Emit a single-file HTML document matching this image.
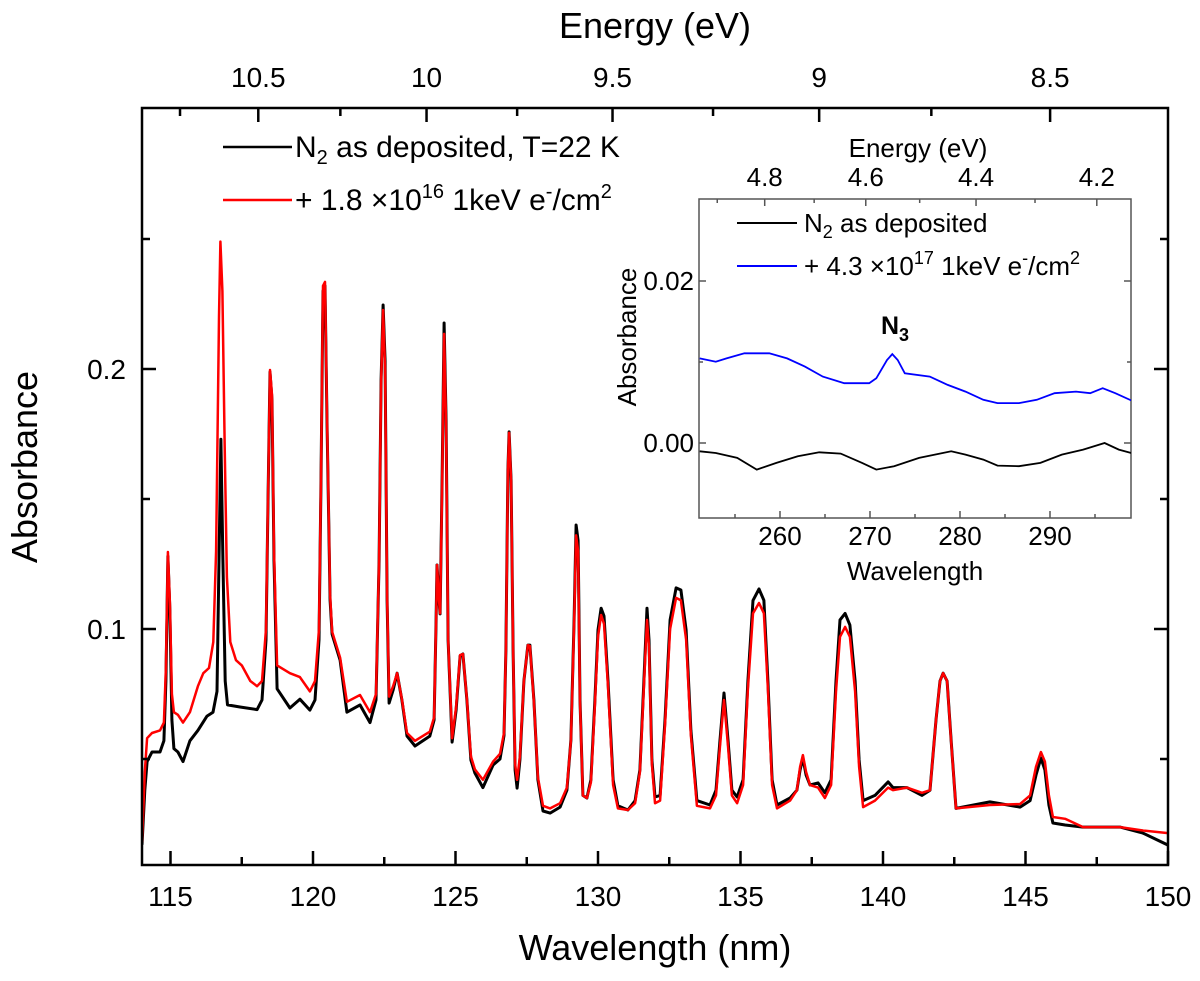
<!DOCTYPE html>
<html><head><meta charset="utf-8"><style>
html,body{margin:0;padding:0;background:#fff;}
svg{display:block;font-family:"Liberation Sans",Arial,sans-serif;}
</style></head><body>
<svg id="chart" width="1200" height="981" viewBox="0 0 1200 981" xmlns="http://www.w3.org/2000/svg">
<g id="main"></g>
<g id="inset"></g>
</svg>
<script>
// ---- main chart data ----
const xTicks = [115,120,125,130,135,140,145,150];
const xMinor = [117.5,122.5,127.5,132.5,137.5,142.5,147.5];
const yTicks = [0.1,0.2];
const yMinor = [0.05,0.15,0.25];
const eTicks = [10.5,10,9.5,9,8.5];
const eMinor = [10.75,10.25,9.75,9.25,8.75];
const blackSeries = [[114.0,0.017],[114.1,0.038],[114.18,0.049],[114.35,0.0527],[114.63,0.0527],[114.77,0.057],[114.84,0.080],[114.91,0.128],[114.98,0.107],[115.05,0.065],[115.12,0.054],[115.26,0.0527],[115.44,0.049],[115.68,0.057],[115.96,0.061],[116.28,0.0665],[116.49,0.068],[116.63,0.076],[116.7,0.1265],[116.77,0.173],[116.84,0.1265],[116.92,0.080],[117.0,0.0708],[117.44,0.070],[118.04,0.069],[118.21,0.0727],[118.35,0.0958],[118.42,0.149],[118.49,0.1988],[118.56,0.188],[118.63,0.1265],[118.74,0.077],[119.19,0.0696],[119.54,0.073],[119.89,0.0688],[120.07,0.0727],[120.21,0.0958],[120.28,0.157],[120.35,0.230],[120.42,0.232],[120.49,0.180],[120.6,0.111],[120.67,0.098],[120.95,0.088],[121.19,0.068],[121.65,0.0708],[122.0,0.064],[122.21,0.0727],[122.32,0.1265],[122.39,0.1958],[122.46,0.2246],[122.53,0.203],[122.6,0.111],[122.67,0.0715],[122.81,0.0765],[122.95,0.083],[123.12,0.0727],[123.3,0.0588],[123.58,0.055],[124.1,0.0588],[124.25,0.065],[124.32,0.1035],[124.35,0.1246],[124.42,0.111],[124.46,0.1058],[124.53,0.157],[124.6,0.2177],[124.67,0.180],[124.74,0.0958],[124.88,0.0565],[125.02,0.0688],[125.16,0.0896],[125.26,0.0904],[125.4,0.0727],[125.54,0.0496],[125.68,0.0446],[125.96,0.039],[126.32,0.0477],[126.56,0.050],[126.7,0.059],[126.77,0.092],[126.84,0.161],[126.88,0.1758],[126.95,0.157],[127.02,0.092],[127.09,0.0458],[127.16,0.0388],[127.26,0.0496],[127.4,0.080],[127.54,0.0938],[127.61,0.0938],[127.75,0.0727],[127.89,0.042],[128.07,0.030],[128.32,0.0292],[128.67,0.0315],[128.91,0.038],[129.05,0.0573],[129.16,0.1035],[129.23,0.140],[129.3,0.134],[129.37,0.0727],[129.47,0.036],[129.61,0.035],[129.75,0.042],[129.89,0.0727],[130.0,0.0996],[130.11,0.108],[130.21,0.105],[130.35,0.080],[130.53,0.042],[130.7,0.032],[131.05,0.0304],[131.3,0.034],[131.47,0.0458],[131.61,0.080],[131.72,0.108],[131.79,0.0958],[131.89,0.0496],[132.0,0.0354],[132.18,0.036],[132.35,0.065],[132.53,0.1035],[132.74,0.1158],[132.91,0.115],[133.09,0.0996],[133.26,0.061],[133.47,0.034],[133.93,0.0323],[134.14,0.038],[134.28,0.0573],[134.42,0.0754],[134.56,0.0573],[134.7,0.038],[134.88,0.0354],[135.09,0.042],[135.26,0.080],[135.44,0.111],[135.65,0.1154],[135.82,0.111],[135.96,0.080],[136.11,0.042],[136.28,0.0323],[136.74,0.035],[136.98,0.038],[137.09,0.0458],[137.19,0.0504],[137.3,0.0438],[137.44,0.040],[137.72,0.0408],[137.96,0.037],[138.18,0.042],[138.35,0.080],[138.49,0.1035],[138.67,0.106],[138.84,0.1015],[139.02,0.080],[139.16,0.0496],[139.3,0.034],[139.72,0.036],[140.18,0.0412],[140.35,0.039],[140.84,0.039],[141.37,0.036],[141.65,0.038],[141.86,0.065],[142.0,0.080],[142.11,0.083],[142.25,0.080],[142.39,0.0573],[142.56,0.031],[143.75,0.0335],[144.81,0.0315],[145.16,0.034],[145.37,0.0438],[145.54,0.0504],[145.68,0.0458],[145.82,0.0323],[145.96,0.0254],[146.39,0.0246],[147.02,0.0238],[148.32,0.0238],[149.12,0.0215],[150.0,0.0169]];
const redSeries = [[114.0,0.018],[114.1,0.045],[114.18,0.058],[114.35,0.060],[114.63,0.061],[114.77,0.064],[114.84,0.085],[114.91,0.1296],[114.98,0.110],[115.05,0.075],[115.12,0.068],[115.26,0.067],[115.44,0.064],[115.68,0.068],[115.96,0.078],[116.15,0.083],[116.35,0.085],[116.5,0.095],[116.6,0.130],[116.7,0.220],[116.75,0.249],[116.82,0.230],[116.9,0.170],[116.98,0.120],[117.1,0.095],[117.3,0.088],[117.5,0.086],[117.8,0.080],[118.04,0.078],[118.21,0.080],[118.35,0.100],[118.42,0.150],[118.49,0.1996],[118.56,0.190],[118.63,0.130],[118.74,0.086],[119.19,0.083],[119.54,0.0815],[119.89,0.076],[120.07,0.080],[120.21,0.100],[120.28,0.158],[120.35,0.232],[120.42,0.2335],[120.49,0.182],[120.6,0.113],[120.67,0.099],[120.95,0.089],[121.19,0.072],[121.65,0.0746],[122.0,0.068],[122.21,0.075],[122.32,0.127],[122.39,0.195],[122.46,0.2227],[122.53,0.200],[122.6,0.112],[122.67,0.074],[122.81,0.078],[122.95,0.083],[123.12,0.073],[123.3,0.060],[123.58,0.057],[124.1,0.0605],[124.25,0.066],[124.32,0.1035],[124.35,0.1246],[124.42,0.111],[124.46,0.106],[124.53,0.155],[124.6,0.2135],[124.67,0.178],[124.74,0.096],[124.88,0.058],[125.02,0.070],[125.16,0.090],[125.26,0.0904],[125.4,0.073],[125.54,0.051],[125.68,0.046],[125.96,0.042],[126.32,0.049],[126.56,0.052],[126.7,0.060],[126.77,0.092],[126.84,0.161],[126.88,0.1755],[126.95,0.157],[127.02,0.092],[127.09,0.048],[127.16,0.042],[127.26,0.051],[127.4,0.080],[127.54,0.0938],[127.61,0.0935],[127.75,0.072],[127.89,0.043],[128.07,0.032],[128.32,0.031],[128.67,0.033],[128.91,0.039],[129.05,0.057],[129.16,0.102],[129.23,0.136],[129.3,0.130],[129.37,0.072],[129.47,0.036],[129.61,0.035],[129.75,0.041],[129.89,0.071],[130.0,0.097],[130.11,0.1054],[130.21,0.102],[130.35,0.078],[130.53,0.040],[130.7,0.031],[131.05,0.0304],[131.3,0.033],[131.47,0.045],[131.61,0.078],[131.72,0.1035],[131.79,0.093],[131.89,0.048],[132.0,0.033],[132.18,0.034],[132.35,0.063],[132.53,0.100],[132.74,0.112],[132.91,0.111],[133.09,0.096],[133.26,0.059],[133.47,0.032],[133.93,0.031],[134.14,0.036],[134.28,0.055],[134.42,0.0727],[134.56,0.055],[134.7,0.036],[134.88,0.033],[135.09,0.040],[135.26,0.077],[135.44,0.106],[135.65,0.110],[135.82,0.106],[135.96,0.077],[136.11,0.040],[136.28,0.031],[136.74,0.034],[136.98,0.038],[137.09,0.047],[137.19,0.0515],[137.3,0.045],[137.44,0.040],[137.72,0.039],[137.96,0.035],[138.18,0.040],[138.35,0.076],[138.49,0.097],[138.67,0.1008],[138.84,0.097],[139.02,0.076],[139.16,0.047],[139.3,0.0315],[139.72,0.034],[140.18,0.039],[140.35,0.038],[140.84,0.039],[141.37,0.037],[141.65,0.038],[141.86,0.065],[142.0,0.080],[142.11,0.083],[142.25,0.080],[142.39,0.057],[142.56,0.031],[143.75,0.0323],[144.81,0.0327],[145.16,0.036],[145.37,0.047],[145.54,0.0527],[145.68,0.049],[145.82,0.036],[145.96,0.0277],[146.39,0.027],[147.02,0.0238],[148.32,0.0238],[149.12,0.0225],[150.0,0.0215]];

// ---- inset data ----
const insetXTicks = [260,270,280,290];
const insetXMinor = [255,265,275,285,295];
const insetYTicks = [0.00,0.02];
const insetYTickLabels = ["0.00","0.02"];
const insetYMinor = [0.01];
const insetETicks = [4.8,4.6,4.4,4.2];
const insetEMinor = [4.9,4.7,4.5,4.3];
const insetBlack = [[251.08,-0.00102],[252.87,-0.00123],[255.24,-0.00184],[257.42,-0.00328],[259.6,-0.00246],[261.98,-0.00164],[264.36,-0.00115],[266.74,-0.00131],[269.12,-0.00246],[270.7,-0.00328],[272.68,-0.00287],[275.46,-0.00184],[279.02,-0.00102],[280.61,-0.00143],[282.59,-0.00205],[284.17,-0.00279],[286.55,-0.00287],[288.93,-0.00246],[291.31,-0.00143],[293.69,-0.00082],[296.07,0.0],[297.65,-0.00082],[299.04,-0.00123]];
const insetBlue = [[251.08,0.01045],[252.87,0.01004],[254.06,0.01045],[256.04,0.01107],[258.81,0.01107],[260.79,0.01045],[262.77,0.00943],[264.76,0.0082],[267.13,0.00738],[269.91,0.00738],[270.7,0.00799],[271.89,0.01025],[272.48,0.01098],[273.08,0.01025],[273.87,0.0086],[276.64,0.0082],[278.63,0.00717],[280.61,0.00635],[282.59,0.00533],[284.17,0.00492],[286.55,0.00492],[288.53,0.00533],[290.51,0.00615],[292.89,0.00635],[294.47,0.00615],[295.86,0.00676],[297.25,0.00615],[299.04,0.00525]];

const NS = "http://www.w3.org/2000/svg";
function mk(parent, tag, attrs, text){
  const el = document.createElementNS(NS, tag);
  for (const k in attrs) el.setAttribute(k, attrs[k]);
  if (text !== undefined) el.textContent = text;
  parent.appendChild(el);
  return el;
}
const L=142,R=1168,T=108,B=865;
const xs = v => L + (v-114)*(R-L)/36;
const ys = v => 629 - (v-0.1)*2600;
const main = document.getElementById('main');

function pathOf(arr, fx, fy){ return arr.map((p,i)=>(i?'L':'M')+fx(p[0]).toFixed(1)+' '+fy(p[1]).toFixed(1)).join(' '); }
const clipM = mk(main,'clipPath',{id:'clipMain'});
mk(clipM,'rect',{x:L,y:T,width:R-L,height:B-T});
let p;
p = mk(main,'path',{d:pathOf(blackSeries,xs,ys),fill:'none',stroke:'#000','stroke-width':3,'stroke-linejoin':'round','clip-path':'url(#clipMain)'});


p = mk(main,'path',{d:pathOf(redSeries,xs,ys),fill:'none',stroke:'#f00','stroke-width':2.5,'stroke-linejoin':'round','clip-path':'url(#clipMain)'});



p = mk(main,'rect',{x:L,y:T,width:R-L,height:B-T,fill:'none',stroke:'#000','stroke-width':2.5});


xTicks.forEach(v=>{
  const x=xs(v);
  mk(main,'line',{x1:x,x2:x,y1:B,y2:B-14,stroke:'#000','stroke-width':2.5});
  const t=mk(main,'text',{x:x,y:906,'font-size':28,'text-anchor':'middle'},String(v));
  
  
});
xMinor.forEach(v=>{const x=xs(v); mk(main,'line',{x1:x,x2:x,y1:B,y2:B-8,stroke:'#000','stroke-width':2.5});});
eTicks.forEach(v=>{
  const x=xs(1239.84/v);
  mk(main,'line',{x1:x,x2:x,y1:T,y2:T+14,stroke:'#000','stroke-width':2.5});
  const t=mk(main,'text',{x:x,y:87,'font-size':28,'text-anchor':'middle'},String(v));
  
  
});
eMinor.forEach(v=>{const x=xs(1239.84/v); mk(main,'line',{x1:x,x2:x,y1:T,y2:T+8,stroke:'#000','stroke-width':2.5});});
yTicks.forEach(v=>{
  const y=ys(v);
  mk(main,'line',{x1:L,x2:L+14,y1:y,y2:y,stroke:'#000','stroke-width':2.5});
  mk(main,'line',{x1:R,x2:R-14,y1:y,y2:y,stroke:'#000','stroke-width':2.5});
  const t=mk(main,'text',{x:126,y:y+10,'font-size':28,'text-anchor':'end'},String(v));
  
  
});
yMinor.forEach(v=>{const y=ys(v);
  mk(main,'line',{x1:L,x2:L+8,y1:y,y2:y,stroke:'#000','stroke-width':2.5});
  mk(main,'line',{x1:R,x2:R-8,y1:y,y2:y,stroke:'#000','stroke-width':2.5});});
let t;
t=mk(main,'text',{x:655,y:960,'font-size':36,'text-anchor':'middle'},'Wavelength (nm)');
 
t=mk(main,'text',{x:655,y:38,'font-size':36,'text-anchor':'middle'},'Energy (eV)');
 
t=mk(main,'text',{x:0,y:0,'font-size':36,'text-anchor':'middle',transform:'translate(37,467) rotate(-90)'},'Absorbance');
 
</script>
<script>
(function(){
  const g = mk(main,'g',{});
  
  
  mk(g,'line',{x1:223,x2:292,y1:147,y2:147,stroke:'#000','stroke-width':2.5});
  mk(g,'line',{x1:223,x2:292,y1:200,y2:200,stroke:'#f00','stroke-width':2.5});
  const a = mk(g,'text',{x:295,y:157,'font-size':30});
  a.innerHTML = 'N<tspan font-size="20" dy="7">2</tspan><tspan dy="-7"> as deposited, T=22 K</tspan>';
  
  
  const b = mk(g,'text',{x:295,y:210,'font-size':30});
  b.innerHTML = '+ 1.8 ×10<tspan font-size="20" dy="-12">16</tspan><tspan dy="12"> 1keV e</tspan><tspan font-size="20" dy="-12">-</tspan><tspan dy="12">/cm</tspan><tspan font-size="20" dy="-12">2</tspan>';
  
  
})();

(function(){
  const ins = document.getElementById('inset');
  const IL=699,IR=1131,IT=199,IB=518;
  const ixs = v => IL + (v-251)*(IR-IL)/48;
  const iys = v => 443 - v*8100;
  mk(ins,'rect',{x:IL,y:IT,width:IR-IL,height:IB-IT,fill:'#fff',stroke:'#555','stroke-width':1.5});
  const c = mk(ins,'clipPath',{id:'clipIn'});
  mk(c,'rect',{x:IL,y:IT,width:IR-IL,height:IB-IT});
  let e;
  e = mk(ins,'path',{d:pathOf(insetBlack,ixs,iys),fill:'none',stroke:'#000','stroke-width':1.8,'clip-path':'url(#clipIn)'});
  
  
  e = mk(ins,'path',{d:pathOf(insetBlue,ixs,iys),fill:'none',stroke:'#00f','stroke-width':1.8,'clip-path':'url(#clipIn)'});
  
  
  insetXTicks.forEach(v=>{const x=ixs(v);
    mk(ins,'line',{x1:x,x2:x,y1:IB,y2:IB-7,stroke:'#555','stroke-width':1.5});
    const q=mk(ins,'text',{x:x,y:545,'font-size':26,'text-anchor':'middle'},String(v));
     });
  insetXMinor.forEach(v=>{const x=ixs(v); mk(ins,'line',{x1:x,x2:x,y1:IB,y2:IB-4,stroke:'#555','stroke-width':1.5});});
  insetETicks.forEach(v=>{const x=ixs(1239.84/v);
    mk(ins,'line',{x1:x,x2:x,y1:IT,y2:IT+7,stroke:'#555','stroke-width':1.5});
    const q=mk(ins,'text',{x:x,y:186,'font-size':26,'text-anchor':'middle'},String(v));
     });
  insetEMinor.forEach(v=>{const x=ixs(1239.84/v); mk(ins,'line',{x1:x,x2:x,y1:IT,y2:IT+4,stroke:'#555','stroke-width':1.5});});
  insetYTicks.forEach((v,i)=>{const y=iys(v);
    mk(ins,'line',{x1:IL,x2:IL+7,y1:y,y2:y,stroke:'#555','stroke-width':1.5});
    mk(ins,'line',{x1:IR,x2:IR-7,y1:y,y2:y,stroke:'#555','stroke-width':1.5});
    const q=mk(ins,'text',{x:694,y:y+9,'font-size':26,'text-anchor':'end'},insetYTickLabels[i]);
     });
  insetYMinor.forEach(v=>{const y=iys(v);
    mk(ins,'line',{x1:IL,x2:IL+4,y1:y,y2:y,stroke:'#555','stroke-width':1.5});
    mk(ins,'line',{x1:IR,x2:IR-4,y1:y,y2:y,stroke:'#555','stroke-width':1.5});});
  e=mk(ins,'text',{x:915,y:580,'font-size':26,'text-anchor':'middle'},'Wavelength');
   
  e=mk(ins,'text',{x:918,y:157,'font-size':26,'text-anchor':'middle'},'Energy (eV)');
   
  e=mk(ins,'text',{x:0,y:0,'font-size':26,'text-anchor':'middle',transform:'translate(636,337) rotate(-90)'},'Absorbance');
   
  e=mk(ins,'text',{x:895,y:334,'font-size':25,'font-weight':'bold','text-anchor':'middle'});
  e.innerHTML='N<tspan font-size="18" dy="7">3</tspan>';
   
  mk(ins,'line',{x1:737,x2:797,y1:223,y2:223,stroke:'#000','stroke-width':2});
  mk(ins,'line',{x1:737,x2:797,y1:266,y2:266,stroke:'#00f','stroke-width':2});
  e=mk(ins,'text',{x:804,y:232,'font-size':26});
  e.innerHTML='N<tspan font-size="18" dy="6">2</tspan><tspan dy="-6"> as deposited</tspan>';
   
  e=mk(ins,'text',{x:804,y:275,'font-size':26});
  e.innerHTML='+ 4.3 ×10<tspan font-size="18" dy="-11">17</tspan><tspan dy="11"> 1keV e</tspan><tspan font-size="18" dy="-11">-</tspan><tspan dy="11">/cm</tspan><tspan font-size="18" dy="-11">2</tspan>';
   
})();
</script>
</body></html>
